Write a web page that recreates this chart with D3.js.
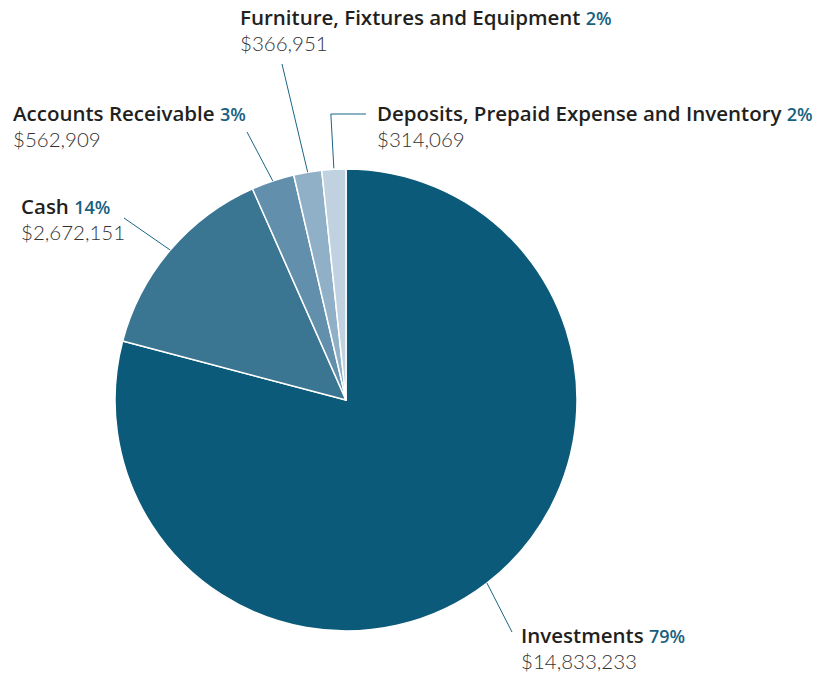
<!DOCTYPE html>
<html>
<head>
<meta charset="utf-8">
<script src="https://cdn.jsdelivr.net/npm/d3@7"></script>
<style>
  body { margin: 0; background: #fff; }
  svg { display: block; }
  .ttl { font-family: "Open Sans", sans-serif; font-weight: 600; fill: #231f20; }
  .pct { font-family: "Open Sans", sans-serif; font-weight: 600; fill: #17617f; }
  .val { font-family: "Lato", "Open Sans", sans-serif; font-weight: 300; fill: #333; }
</style>
</head>
<body>
<div class="chart"></div>
<script>
// data
var categories = ["Investments", "Cash", "Accounts Receivable", "Furniture, Fixtures and Equipment", "Deposits, Prepaid Expense and Inventory"];
var values = [14833233, 2672151, 562909, 366951, 314069];
var percentLabels = ["79%", "14%", "3%", "2%", "2%"];
var colors = ["#0b5a79", "#3a7592", "#628fab", "#8fb0c7", "#c0d2df"];

var width = 833, height = 676;
var cx = 346, cy = 400, radius = 231;

// where each label sits (x, title baseline) and the leader line end
var labelPos = [
    { x: 521, y: 643, lx: 512, ly: 632 },
    { x: 21, y: 214, lx: 124, ly: 218 },
    { x: 13, y: 121, lx: 247, ly: 132 },
    { x: 240, y: 25, lx: 282, ly: 64 },
    { x: 377, y: 121, lx: 366, ly: 114, elbow: true }
];

var svg = d3.select(".chart")
    .append("svg")
    .attr("width", width)
    .attr("height", height);

var pie = d3.pie().sort(null).value(function (d) { return d; });
var arcs = pie(values);

var arc = d3.arc().innerRadius(0).outerRadius(radius);

var g = svg.append("g").attr("transform", "translate(" + cx + "," + cy + ")");

g.selectAll("path")
    .data(arcs)
    .enter()
    .append("path")
    .attr("d", arc)
    .attr("fill", function (d, i) { return colors[i]; })
    .attr("stroke", "#fff")
    .attr("stroke-width", 1.5)
    .attr("stroke-linejoin", "round");

// leader lines
svg.selectAll("path.leader")
    .data(arcs)
    .enter()
    .append("path")
    .attr("class", "leader")
    .attr("fill", "none")
    .attr("stroke", "#1b6587")
    .attr("stroke-width", 1)
    .attr("d", function (d, i) {
        var a = (d.startAngle + d.endAngle) / 2;
        var sx = cx + radius * Math.sin(a);
        var sy = cy - radius * Math.cos(a);
        var p = labelPos[i];
        if (p.elbow) {
            return "M" + sx + "," + (sy - 1) + "L" + (sx - 3) + "," + p.ly + "L" + p.lx + "," + p.ly;
        }
        return "M" + sx + "," + sy + "L" + p.lx + "," + p.ly;
    });

// labels
var lab = svg.selectAll("g.lab")
    .data(categories)
    .enter()
    .append("g")
    .attr("class", "lab");

var t = lab.append("text")
    .attr("x", function (d, i) { return labelPos[i].x; })
    .attr("y", function (d, i) { return labelPos[i].y; });
t.append("tspan").attr("class", "ttl").style("font-size", "20.5px").text(function (d) { return d + " "; });
t.append("tspan").attr("class", "pct").style("font-size", "18px").text(function (d, i) { return percentLabels[i]; });

lab.append("text")
    .attr("class", "val")
    .attr("x", function (d, i) { return labelPos[i].x; })
    .attr("y", function (d, i) { return labelPos[i].y + 26; })
    .style("font-size", "20.5px")
    .text(function (d, i) { return "$" + d3.format(",")(values[i]); });
</script>
</body>
</html>
